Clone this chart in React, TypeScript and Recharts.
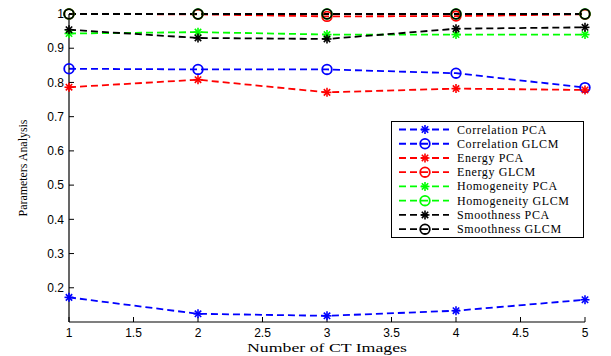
import React from 'react';
import { LineChart, Line, XAxis, YAxis, Legend, Label } from 'recharts';

const xValues = [1, 2, 3, 4, 5];
const correlationPCA = [0.172, 0.124, 0.118, 0.133, 0.165];
const correlationGLCM = [0.84, 0.838, 0.838, 0.827, 0.785];
const energyPCA = [0.786, 0.808, 0.771, 0.782, 0.778];
const energyGLCM = [1.0, 0.999, 0.993, 0.994, 0.999];
const homogeneityPCA = [0.943, 0.947, 0.94, 0.94, 0.94];
const homogeneityGLCM = [1, 1, 1, 1, 1];
const smoothnessPCA = [0.954, 0.93, 0.927, 0.957, 0.961];
const smoothnessGLCM = [1, 1, 1, 1, 1];

const xTicks = [1, 1.5, 2, 2.5, 3, 3.5, 4, 4.5, 5];
const yTicks = [0.2, 0.3, 0.4, 0.5, 0.6, 0.7, 0.8, 0.9, 1];

const seriesDefs = [
  { key: 'corrPCA', name: 'Correlation PCA', values: correlationPCA, color: '#0000ff', marker: 'star' },
  { key: 'corrGLCM', name: 'Correlation GLCM', values: correlationGLCM, color: '#0000ff', marker: 'circle' },
  { key: 'enPCA', name: 'Energy PCA', values: energyPCA, color: '#ff0000', marker: 'star' },
  { key: 'enGLCM', name: 'Energy GLCM', values: energyGLCM, color: '#ff0000', marker: 'circle' },
  { key: 'homPCA', name: 'Homogeneity PCA', values: homogeneityPCA, color: '#00ff00', marker: 'star' },
  { key: 'homGLCM', name: 'Homogeneity GLCM', values: homogeneityGLCM, color: '#00ff00', marker: 'circle' },
  { key: 'smPCA', name: 'Smoothness PCA', values: smoothnessPCA, color: '#000000', marker: 'star' },
  { key: 'smGLCM', name: 'Smoothness GLCM', values: smoothnessGLCM, color: '#000000', marker: 'circle' },
];

const data = xValues.map((x, i) => {
  const row: any = { x };
  seriesDefs.forEach((s) => {
    row[s.key] = s.values[i];
  });
  return row;
});

const StarShape = ({ cx, cy, color }: any) => (
  <g stroke={color} strokeWidth={1.6} fill="none">
    <line x1={cx - 4.5} y1={cy} x2={cx + 4.5} y2={cy} />
    <line x1={cx} y1={cy - 4.5} x2={cx} y2={cy + 4.5} />
    <line x1={cx - 3.2} y1={cy - 3.2} x2={cx + 3.2} y2={cy + 3.2} />
    <line x1={cx - 3.2} y1={cy + 3.2} x2={cx + 3.2} y2={cy - 3.2} />
  </g>
);

const CircleShape = ({ cx, cy, color }: any) => (
  <circle cx={cx} cy={cy} r={4.8} stroke={color} strokeWidth={1.8} fill="none" />
);

const makeDot = (marker: string, color: string) => (props: any) => {
  const { cx, cy, key, index } = props;
  if (cx == null || cy == null) return <g key={key ?? index} />;
  return marker === 'star' ? (
    <StarShape key={key ?? index} cx={cx} cy={cy} color={color} />
  ) : (
    <CircleShape key={key ?? index} cx={cx} cy={cy} color={color} />
  );
};

const LegendBox = () => {
  const w = 193;
  const h = 117;
  return (
    <svg width={w} height={h} style={{ display: 'block' }}>
      <rect x={0.5} y={0.5} width={w - 1} height={h - 1} fill="#fff" stroke="#000" strokeWidth={1} />
      {seriesDefs.map((s, i) => {
        const cy = 8.5 + i * 14.24;
        return (
          <g key={s.key}>
            <line x1={8} y1={cy} x2={58} y2={cy} stroke={s.color} strokeWidth={1.8} strokeDasharray="7 4" />
            {s.marker === 'star' ? (
              <StarShape cx={34} cy={cy} color={s.color} />
            ) : (
              <CircleShape cx={34} cy={cy} color={s.color} />
            )}
            <text
              x={66}
              y={cy + 4}
              fontFamily="'Liberation Serif', 'Times New Roman', serif"
              fontSize={12}
              fill="#000"
              letterSpacing={0.6}
            >
              {s.name}
            </text>
          </g>
        );
      })}
    </svg>
  );
};

const fmtY = (v: number) => (v === 1 ? '1' : v.toFixed(1));
const fmtX = (v: number) => String(v);
const blank = () => '';

const tickStyle = { fontFamily: "'Liberation Sans', Arial, sans-serif", fontSize: 12, fill: '#000' };

export default function App() {
  return (
    <div style={{ position: 'absolute', left: 0, top: 0, width: 611, height: 356, background: '#fff' }}>
      <LineChart width={611} height={356} data={data} margin={{ top: 14, right: 26, bottom: 0, left: 0 }}>
        <XAxis
          xAxisId="b"
          dataKey="x"
          type="number"
          domain={[1, 5]}
          ticks={xTicks}
          tickFormatter={fmtX}
          height={34}
          tickSize={-5}
          tickMargin={11}
          tick={tickStyle}
          axisLine={{ stroke: '#000', strokeWidth: 1.2 }}
          tickLine={{ stroke: '#000' }}
          interval={0}
        >
          <Label
            content={() => (
              <text
                x={327}
                y={351.5}
                textAnchor="middle"
                fontFamily="'Liberation Serif', 'Times New Roman', serif"
                fontSize={13}
                textLength={160}
                lengthAdjust="spacingAndGlyphs"
                fill="#000"
              >
                Number of CT Images
              </text>
            )}
          />
        </XAxis>
        <XAxis
          xAxisId="t"
          orientation="top"
          dataKey="x"
          type="number"
          domain={[1, 5]}
          ticks={xTicks}
          tickFormatter={blank}
          height={0}
          tickSize={-5}
          axisLine={{ stroke: '#000', strokeWidth: 1.2 }}
          tickLine={{ stroke: '#000' }}
          interval={0}
        />
        <YAxis
          yAxisId="l"
          type="number"
          domain={[0.1, 1]}
          ticks={yTicks}
          tickFormatter={fmtY}
          width={69}
          tickSize={-5}
          tickMargin={10}
          tick={tickStyle}
          axisLine={{ stroke: '#000', strokeWidth: 1.2 }}
          tickLine={{ stroke: '#000' }}
          interval={0}
        >
          <Label
            content={() => (
              <text
                x={0}
                y={0}
                transform="translate(27,168) rotate(-90)"
                textAnchor="middle"
                fontFamily="'Liberation Serif', 'Times New Roman', serif"
                fontSize={12}
                textLength={97}
                lengthAdjust="spacingAndGlyphs"
                fill="#000"
              >
                Parameters Analysis
              </text>
            )}
          />
        </YAxis>
        <YAxis
          yAxisId="r"
          orientation="right"
          type="number"
          domain={[0.1, 1]}
          ticks={yTicks}
          tickFormatter={blank}
          width={0}
          tickSize={-5}
          axisLine={{ stroke: '#000', strokeWidth: 1.2 }}
          tickLine={{ stroke: '#000' }}
          interval={0}
        />
        {seriesDefs.map((s) => (
          <Line
            key={s.key}
            xAxisId="b"
            yAxisId="l"
            type="linear"
            dataKey={s.key}
            name={s.name}
            stroke={s.color}
            strokeWidth={1.8}
            strokeDasharray="7 4"
            dot={makeDot(s.marker, s.color)}
            activeDot={false}
            isAnimationActive={false}
          />
        ))}
        <Legend
          layout="vertical"
          align="center"
          verticalAlign="middle"
          content={() => <LegendBox />}
          wrapperStyle={{ position: 'absolute', left: 391, top: 121, width: 193, height: 117, margin: 0 }}
        />
      </LineChart>
    </div>
  );
}
